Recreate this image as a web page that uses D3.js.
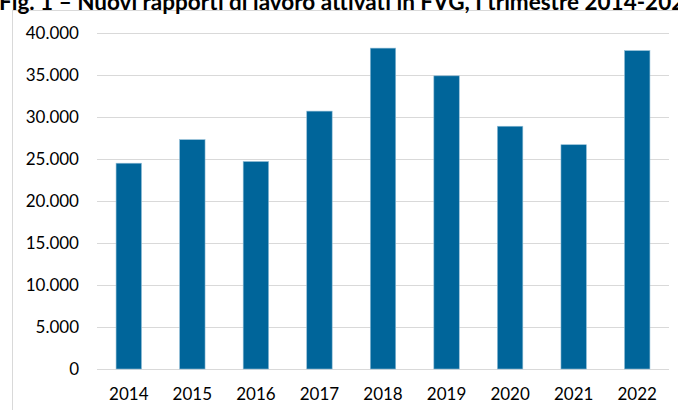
<!DOCTYPE html>
<html>
<head>
<meta charset="utf-8">
<script src="https://cdn.jsdelivr.net/npm/d3@7"></script>
<style>
  body { margin: 0; background: #fff; }
  svg { display: block; font-family: Lato, "Open Sans", sans-serif; }
</style>
</head>
<body>
<svg id="chart" width="678" height="410"></svg>
<script>
// I trimestre, nuovi rapporti di lavoro attivati
const years = ["2014", "2015", "2016", "2017", "2018", "2019", "2020", "2021", "2022"]
const values = [24500, 27300, 24700, 30700, 38200, 34900, 28900, 26700, 37900]
const yTicks = [0, 5000, 10000, 15000, 20000, 25000, 30000, 35000, 40000]
const title = "Fig. 1 – Nuovi rapporti di lavoro attivati in FVG, I trimestre 2014-2022"

const svg = d3.select("#chart")
const plotLeft = 97, plotRight = 669, plotTop = 33, plotBottom = 369

// chart frame (cut by the picture on the right and bottom)
svg.append("rect")
  .attr("x", 12.5).attr("y", 10.5)
  .attr("width", 700).attr("height", 420)
  .attr("fill", "#fff").attr("stroke", "#d9d9d9")

// title, cropped at the top and right like in the source picture
svg.append("text")
  .attr("x", -1).attr("y", 10)
  .attr("font-size", 22.5).attr("font-weight", "bold")
  .attr("fill", "#000")
  .text(title)

const x = d3.scaleBand().domain(years).range([plotLeft, plotRight])
  .paddingInner(0.6).paddingOuter(0.3)
const y = d3.scaleLinear().domain([0, 40000]).range([plotBottom, plotTop])

const fmt = v => d3.format(",")(v).replace(/,/g, ".")

// gridlines
svg.append("g").selectAll("line").data(yTicks).join("line")
  .attr("x1", plotLeft).attr("x2", plotRight)
  .attr("y1", d => Math.round(y(d)) + 0.5).attr("y2", d => Math.round(y(d)) + 0.5)
  .attr("stroke", "#d9d9d9").attr("stroke-width", 1)

// y axis labels
const yAxis = svg.append("g").attr("transform", `translate(${plotLeft - 18},0)`)
  .call(d3.axisLeft(y).tickValues(yTicks).tickFormat(fmt).tickSize(0).tickPadding(0))
yAxis.select(".domain").remove()
yAxis.selectAll("text").attr("font-size", 17).attr("fill", "#000")
  .attr("font-family", "Lato, sans-serif")

// bars
svg.append("g").selectAll("rect").data(values).join("rect")
  .attr("x", (d, i) => x(years[i]))
  .attr("width", x.bandwidth())
  .attr("y", d => y(d))
  .attr("height", d => y(0) - y(d))
  .attr("fill", "#00659a")
  .attr("stroke", "#8fbcd6").attr("stroke-width", 0.6)

// x axis labels
const xAxis = svg.append("g").attr("transform", `translate(0,${plotBottom + 19})`)
  .call(d3.axisBottom(x).tickSize(0).tickPadding(0))
xAxis.select(".domain").remove()
xAxis.selectAll("text").attr("font-size", 17).attr("fill", "#000")
  .attr("font-family", "Lato, sans-serif")
</script>
</body>
</html>
